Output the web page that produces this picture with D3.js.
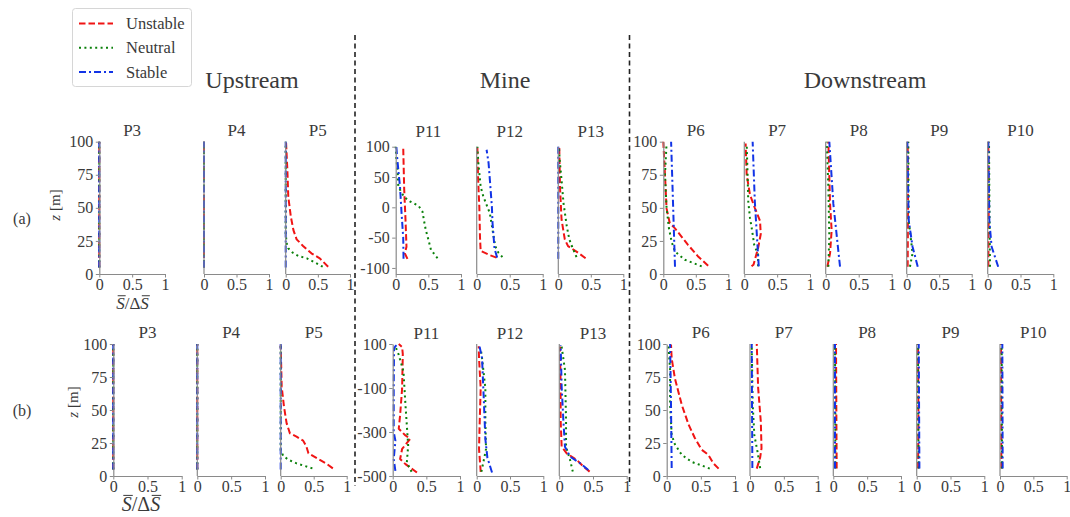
<!DOCTYPE html>
<html>
<head>
<meta charset="utf-8">
<script src="https://cdn.jsdelivr.net/npm/d3@7"></script>
<style>
  html, body { margin: 0; padding: 0; background: #fff; }
  svg { display: block; }
</style>
</head>
<body>
<svg id="chart" width="1070" height="517"></svg>
<script>
// ---- stations and ticks ----
const upstreamStations = ["P3", "P4", "P5"];
const mineStations = ["P11", "P12", "P13"];
const downstreamStations = ["P6", "P7", "P8", "P9", "P10"];
const groupTitles = ["Upstream", "Mine", "Downstream"];
const caseNames = ["Unstable", "Neutral", "Stable"];
const xTicks = [0, 0.5, 1];
const yTicksSurface = [0, 25, 50, 75, 100];
const yTicksMineA = [-100, -50, 0, 50, 100];
const yTicksMineB = [-500, -300, -100, 100];

// ---- profiles, each point is [S/ΔS, z] ----
// row (a)
const a_P3 = {
  unstable: [[0, 5], [0, 100]],
  neutral:  [[0, 5], [0, 100]],
  stable:   [[0, 5], [0, 100]]
};
const a_P4 = {
  unstable: [[0, 5], [0, 100]],
  neutral:  [[0, 5], [0, 100]],
  stable:   [[0, 5], [0, 100]]
};
const a_P5 = {
  unstable: [[0.66, 5.5], [0.53, 11.8], [0.40, 15.6], [0.27, 21.2], [0.17, 26.2], [0.12, 33.2], [0.08, 43.3], [0.04, 58.4], [0.026, 78.6], [0.005, 100]],
  neutral:  [[0.575, 5.5], [0.46, 8.6], [0.33, 11.8], [0.20, 13.6], [0.11, 16.1], [0.04, 19.4], [0.016, 23.2], [0, 30], [0, 100]],
  stable:   [[0, 5], [0, 100]]
};
const a_P11 = {
  unstable: [[0.18, -85], [0.14, -76], [0.165, -65], [0.15, -20], [0.13, 30], [0.115, 100]],
  neutral:  [[0.64, -84], [0.54, -70], [0.50, -53], [0.46, -37], [0.43, -20], [0.41, -7], [0.35, 2.5], [0.22, 9.6], [0.13, 17], [0.04, 34], [0.03, 60], [0.01, 80], [0, 100]],
  stable:   [[0.12, -85], [0.115, -50], [0.09, -10], [0.066, 34], [0.04, 62], [0.02, 85], [0.01, 100]]
};
const a_P12 = {
  unstable: [[0.30, -83], [0.20, -79], [0.06, -72], [0.05, -50], [0.04, 0], [0.02, 50], [0.01, 100]],
  neutral:  [[0.39, -82], [0.33, -75], [0.28, -64], [0.24, -37], [0.20, -10], [0.15, 4], [0.10, 18], [0.06, 34], [0.025, 73], [0.01, 100]],
  stable:   [[0.31, -83], [0.27, -68], [0.24, -26], [0.23, 1], [0.21, 30], [0.18, 73], [0.15, 95]]
};
const a_P13 = {
  unstable: [[0.42, -84], [0.28, -73], [0.15, -64], [0.10, -53], [0.05, -20], [0.026, 34], [0.015, 99]],
  neutral:  [[0.28, -82], [0.22, -67], [0.17, -53], [0.13, -31], [0.08, 7], [0.05, 45], [0.02, 80], [0.01, 100]],
  stable:   [[0, -85], [0, 100]]
};
const a_P6 = {
  unstable: [[0.69, 6.3], [0.54, 13], [0.38, 22], [0.18, 34.5], [0.10, 38.3], [0.05, 49.6], [0.026, 74.8], [0, 100]],
  neutral:  [[0.59, 5.8], [0.33, 10.8], [0.18, 17], [0.13, 24], [0.087, 34.5], [0.05, 50], [0.026, 75], [0.05, 98.7]],
  stable:   [[0.18, 5.5], [0.15, 53], [0.12, 100]]
};
const a_P7 = {
  unstable: [[0.11, 5.8], [0.14, 7], [0.21, 19.6], [0.25, 30], [0.24, 40], [0.16, 50], [0.086, 60], [0.036, 75], [0.02, 98.7]],
  neutral:  [[0.21, 5.8], [0.21, 14.6], [0.15, 22.2], [0.12, 32.5], [0.086, 42.6], [0.06, 55], [0.05, 75], [0.036, 98.7]],
  stable:   [[0.22, 5.8], [0.16, 55], [0.127, 100]]
};
const a_P8 = {
  unstable: [[0.025, 5.5], [0.066, 15.6], [0.09, 33], [0.066, 53], [0.04, 100]],
  neutral:  [[0.04, 5.5], [0.055, 28], [0.04, 66], [0.015, 100]],
  stable:   [[0.217, 5.5], [0.116, 53], [0.055, 100]]
};
const a_P9 = {
  unstable: [[0.015, 5.5], [0.02, 50], [0.015, 100]],
  neutral:  [[0.05, 5.5], [0.09, 15.6], [0.03, 41], [0.025, 100]],
  stable:   [[0.17, 5.5], [0.09, 20.6], [0.03, 41], [0.01, 100]]
};
const a_P10 = {
  unstable: [[0.01, 5.5], [0.015, 50], [0.01, 100]],
  neutral:  [[0.035, 5.5], [0.03, 30], [0.025, 60], [0.02, 100]],
  stable:   [[0.16, 5.5], [0.06, 20.6], [0.025, 40], [0.01, 100]]
};

// row (b)
const b_P3 = {
  unstable: [[0, 5], [0, 100]],
  neutral:  [[0, 5], [0, 100]],
  stable:   [[0, 5], [0, 100]]
};
const b_P4 = {
  unstable: [[0, 5], [0, 100]],
  neutral:  [[0, 5], [0, 100]],
  stable:   [[0, 5], [0, 100]]
};
const b_P5 = {
  unstable: [[0.79, 5.8], [0.70, 9.1], [0.55, 13.4], [0.42, 17.2], [0.39, 22.2], [0.34, 26.8], [0.24, 29.8], [0.14, 32.3], [0.09, 39.9], [0.05, 52.5], [0.015, 67.7], [0, 99]],
  neutral:  [[0.48, 5.8], [0.34, 8], [0.24, 9.6], [0.13, 12], [0.04, 15], [0, 19.7], [0, 100]],
  stable:   [[0, 5], [0, 100]]
};
const b_P11 = {
  unstable: [[0.36, -484], [0.19, -446], [0.11, -423], [0.14, -377], [0.26, -331], [0.19, -316], [0.09, -285], [0.11, -224], [0.14, -102], [0.15, 54], [0.14, 86], [0.09, 100]],
  neutral:  [[0.28, -481], [0.21, -438], [0.23, -362], [0.21, -270], [0.19, -178], [0.16, -25], [0.09, 51], [0.04, 89]],
  stable:   [[0.04, -477], [0.015, -423], [0.04, -340], [0.015, -300], [0.015, -100], [0.02, 80], [0.04, 90], [0.08, 100]]
};
const b_P12 = {
  unstable: [[0.06, -481], [0.035, -377], [0.045, -255], [0.06, -102], [0.035, 36], [0.03, 90]],
  neutral:  [[0.07, -481], [0.11, -423], [0.14, -377], [0.13, -255], [0.13, -102], [0.08, 36], [0.06, 80]],
  stable:   [[0.23, -484], [0.16, -416], [0.13, -331], [0.11, -178], [0.08, 36], [0.035, 100]]
};
const b_P13 = {
  unstable: [[0.45, -480], [0.36, -458], [0.26, -427], [0.11, -397], [0.035, -367], [0.02, -245], [0.02, -94], [0.01, 88]],
  neutral:  [[0.20, -480], [0.16, -427], [0.10, -367], [0.10, -245], [0.084, -18], [0.035, 88]],
  stable:   [[0.43, -473], [0.31, -442], [0.16, -412], [0.084, -367], [0.06, -245], [0.035, -94], [0.02, 95]]
};
const b_P6 = {
  unstable: [[0.76, 5.6], [0.68, 9.8], [0.61, 16], [0.51, 20], [0.41, 29], [0.32, 39], [0.22, 54], [0.12, 74], [0.073, 89], [0.063, 99.5]],
  neutral:  [[0.63, 5.6], [0.51, 8], [0.37, 10.6], [0.22, 16], [0.12, 24], [0.073, 31], [0.05, 54], [0.05, 80], [0.025, 99.5]],
  stable:   [[0.073, 6], [0.063, 54], [0.05, 100]]
};
const b_P7 = {
  unstable: [[0.10, 5.6], [0.15, 14], [0.17, 21], [0.16, 41], [0.12, 67], [0.10, 100]],
  neutral:  [[0.15, 6], [0.11, 18.7], [0.064, 31], [0.04, 54], [0.025, 100]],
  stable:   [[0.035, 6], [0.025, 100]]
};
const b_P8 = {
  unstable: [[0.05, 5.6], [0.045, 50], [0.04, 100]],
  neutral:  [[0.03, 5.6], [0.03, 50], [0.025, 100]],
  stable:   [[0.025, 5.6], [0.025, 100]]
};
const b_P9 = {
  unstable: [[0.02, 5.6], [0.025, 50], [0.02, 100]],
  neutral:  [[0.03, 5.6], [0.02, 50], [0.02, 100]],
  stable:   [[0.04, 5.6], [0.03, 100]]
};
const b_P10 = {
  unstable: [[0.02, 5.6], [0.015, 100]],
  neutral:  [[0.03, 5.6], [0.025, 100]],
  stable:   [[0.04, 5.6], [0.035, 100]]
};

// ---- styling ----
const FONT = "'Liberation Serif', 'Times New Roman', serif";
const TEXT = "#3a3a3a";
const SPINE = "#8a8a8a";
const caseStyle = {
  unstable: { color: "#f01414", dash: "6.5,3" },
  neutral:  { color: "#0a800a", dash: "2,3.4" },
  stable:   { color: "#1234e6", dash: "7,3,2,3" }
};
const caseKeys = ["unstable", "neutral", "stable"];
const tickFmt = d => d === 0.5 ? "0.5" : (d < 0 ? "-" + Math.abs(d) : String(d));

const svg = d3.select("#chart");

// ---- panel geometry (pixel extents of each axis box) ----
const rowA = {
  yTop: 141.7, yTopMine: 146.7, yBot: 274, titleY: 136,
  up:   [[99.3, 165], [204, 269], [285.7, 350]],
  mine: [[395.7, 461], [476.7, 542.7], [558.3, 623.3]],
  down: [[663.3, 728.3], [744.3, 810], [825.7, 891.7], [906.7, 971.7], [987.7, 1053.3]],
  mineDomain: [-110, 100], mineTicks: yTicksMineA,
  data: { up: [a_P3, a_P4, a_P5], mine: [a_P11, a_P12, a_P13], down: [a_P6, a_P7, a_P8, a_P9, a_P10] }
};
const rowB = {
  yTop: 344, yTopMine: 344, yBot: 476, titleY: 338,
  up:   [[113.3, 181.7], [197.3, 265], [280.7, 346.7]],
  mine: [[392.7, 460], [476.7, 543.3], [559.3, 626.7]],
  down: [[666.7, 735], [750, 817.7], [833.3, 901], [916.7, 984.3], [1000, 1066.7]],
  mineDomain: [-500, 100], mineTicks: yTicksMineB,
  data: { up: [b_P3, b_P4, b_P5], mine: [b_P11, b_P12, b_P13], down: [b_P6, b_P7, b_P8, b_P9, b_P10] }
};

function drawPanel(name, ext, yTop, yBot, domain, profiles, yTicks, titleY) {
  const x = d3.scaleLinear().domain([0, 1]).range(ext);
  const y = d3.scaleLinear().domain(domain).range([yBot, yTop]);
  const g = svg.append("g");

  const line = d3.line().x(d => x(d[0])).y(d => y(d[1]));
  caseKeys.forEach(k => {
    g.append("path")
      .datum(profiles[k])
      .attr("d", line)
      .attr("fill", "none")
      .attr("stroke", caseStyle[k].color)
      .attr("stroke-width", 2)
      .attr("stroke-dasharray", caseStyle[k].dash)
      .attr("stroke-linejoin", "round");
  });

  // x axis
  const xAxis = d3.axisBottom(x).tickValues(xTicks).tickFormat(tickFmt)
    .tickSize(3.5).tickSizeOuter(0).tickPadding(3);
  const gx = g.append("g").attr("transform", `translate(0,${yBot})`).call(xAxis);
  gx.attr("font-family", FONT).attr("font-size", 16);
  gx.select(".domain").attr("stroke", SPINE).attr("stroke-width", 1.2);
  gx.selectAll(".tick line").attr("stroke", SPINE).attr("stroke-width", 1);
  gx.selectAll(".tick text").attr("fill", TEXT).attr("dy", null).attr("y", 16);

  // y axis: labelled only on the first panel of each group
  if (yTicks) {
    const yAxis = d3.axisLeft(y).tickValues(yTicks).tickFormat(tickFmt)
      .tickSize(3.5).tickSizeOuter(0).tickPadding(2.5);
    const gy = g.append("g").attr("transform", `translate(${ext[0]},0)`).call(yAxis);
    gy.attr("font-family", FONT).attr("font-size", 16);
    gy.select(".domain").attr("stroke", SPINE).attr("stroke-width", 1.2);
    gy.selectAll(".tick line").attr("stroke", SPINE).attr("stroke-width", 1);
    gy.selectAll(".tick text").attr("fill", TEXT);
  } else {
    g.append("line")
      .attr("x1", ext[0]).attr("x2", ext[0])
      .attr("y1", yTop).attr("y2", yBot)
      .attr("stroke", SPINE).attr("stroke-width", 1.2);
  }

  // station title
  g.append("text")
    .attr("x", (ext[0] + ext[1]) / 2).attr("y", titleY)
    .attr("text-anchor", "middle")
    .attr("font-family", FONT).attr("font-size", 17).attr("fill", TEXT)
    .text(name);
}

function drawRow(row) {
  const groups = [
    ["up", upstreamStations, [0, 100], yTicksSurface, row.yTop],
    ["mine", mineStations, row.mineDomain, row.mineTicks, row.yTopMine],
    ["down", downstreamStations, [0, 100], yTicksSurface, row.yTop]
  ];
  groups.forEach(([key, names, domain, ticks, top]) => {
    names.forEach((n, i) => {
      const tY = key === "mine" ? row.titleY + 1 : row.titleY;
      drawPanel(n, row[key][i], top, row.yBot, domain, row.data[key][i], i === 0 ? ticks : null, tY);
    });
  });
}

drawRow(rowA);
drawRow(rowB);

// ---- group headers ----
const headerX = [252, 505, 865];
groupTitles.forEach((t, i) => {
  svg.append("text")
    .attr("x", headerX[i]).attr("y", 88)
    .attr("text-anchor", "middle")
    .attr("font-family", FONT).attr("font-size", 24).attr("fill", TEXT)
    .text(t);
});

// ---- dashed separators between groups ----
[355, 629.5].forEach(xp => {
  svg.append("line")
    .attr("x1", xp).attr("x2", xp).attr("y1", 35).attr("y2", 486)
    .attr("stroke", "#222").attr("stroke-width", 1.6)
    .attr("stroke-dasharray", "5,3.5");
});

// ---- row labels ----
[["(a)", 22, 224], ["(b)", 22, 416]].forEach(([t, xp, yp]) => {
  svg.append("text").attr("x", xp).attr("y", yp).attr("text-anchor", "middle")
    .attr("font-family", FONT).attr("font-size", 16).attr("fill", TEXT).text(t);
});

// ---- y axis titles: z [m] ----
[[60, 205], [78, 402]].forEach(([xp, yp]) => {
  const t = svg.append("text")
    .attr("transform", `translate(${xp},${yp}) rotate(-90)`)
    .attr("text-anchor", "middle")
    .attr("font-family", FONT).attr("font-size", 15).attr("fill", TEXT);
  t.append("tspan").attr("font-style", "italic").text("z");
  t.append("tspan").text(" [m]");
});

// ---- x axis titles: S̄/ΔS̄ with overbars ----
function ratioLabel(cx, baseline, size) {
  const t = svg.append("text")
    .attr("x", cx).attr("y", baseline).attr("text-anchor", "middle")
    .attr("font-family", FONT).attr("font-size", size).attr("fill", TEXT);
  t.append("tspan").attr("font-style", "italic").text("S");
  t.append("tspan").text("/Δ");
  t.append("tspan").attr("font-style", "italic").text("S");
  const node = t.node();
  [0, 3].forEach(ci => {
    const r = node.getExtentOfChar(ci);
    svg.append("line")
      .attr("x1", r.x + 1.5).attr("x2", r.x + r.width + 1)
      .attr("y1", baseline - size * 0.78).attr("y2", baseline - size * 0.78)
      .attr("stroke", TEXT).attr("stroke-width", 1);
  });
}
ratioLabel(132.5, 309, 17);
ratioLabel(141, 511, 20);

// ---- legend ----
const legend = svg.append("g");
legend.append("rect")
  .attr("x", 72.5).attr("y", 8.5).attr("width", 119).attr("height", 78)
  .attr("rx", 3).attr("fill", "#fff").attr("stroke", "#d6d6d6").attr("stroke-width", 1);
caseKeys.forEach((k, i) => {
  const yy = 23.5 + i * 24.3;
  legend.append("line")
    .attr("x1", 79).attr("x2", 113).attr("y1", yy).attr("y2", yy)
    .attr("stroke", caseStyle[k].color).attr("stroke-width", 2)
    .attr("stroke-dasharray", caseStyle[k].dash);
  legend.append("text")
    .attr("x", 126).attr("y", yy + 5.5)
    .attr("font-family", FONT).attr("font-size", 16.5).attr("fill", TEXT)
    .text(caseNames[i]);
});
</script>
</body>
</html>
